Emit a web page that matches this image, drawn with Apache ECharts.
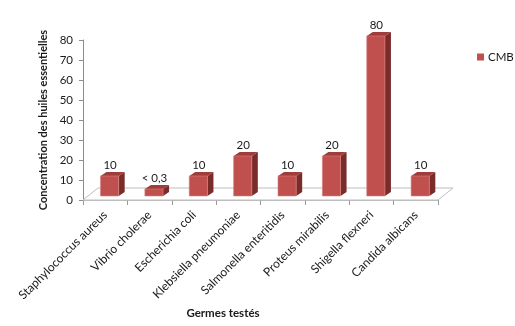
<!DOCTYPE html>
<html>
<head>
<meta charset="utf-8">
<script src="https://cdn.jsdelivr.net/npm/echarts@6/dist/echarts.min.js"></script>
<style>
  html, body { margin: 0; padding: 0; background: #fff; }
  #chart { width: 515px; height: 326px; }
</style>
</head>
<body>
<div id="chart"></div>
<script>
// Germs tested and the essential-oil concentration (CMB) for each
const categories = [
  'Staphylococcus aureus',
  'Vibrio cholerae',
  'Escherichia coli',
  'Klebsiella pneumoniae',
  'Salmonella enteritidis',
  'Proteus mirabilis',
  'Shigella flexneri',
  'Candida albicans'
];
const cmbValues = [10, 3.5, 10, 20, 10, 20, 80, 10];
const cmbLabels = ['10', '< 0,3', '10', '20', '10', '20', '80', '10'];
const yTicks = [0, 10, 20, 30, 40, 50, 60, 70, 80];

const FONT = 'Lato';
const FRONT = '#C0504D';
const TOP = '#9E3D3A';
const SIDE = '#7A2C2A';

// 3D-looking column: front face, top face and right side face
function renderBar(params, api) {
  const i = api.value(0);
  const v = api.value(1);
  const base = api.coord([i, 0]);
  const top = api.coord([i, v]);
  const w = api.size([1, 0])[0] * 0.41;
  const ox = 4.4, oy = -4;   // column stands a little behind the front edge of the floor
  const dx = 6, dy = -4;     // column depth
  const x0 = base[0] + ox - w / 2;
  const x1 = x0 + w;
  const yb = base[1] + oy;
  const yt = top[1] + oy;
  return {
    type: 'group',
    children: [
      { type: 'polygon', shape: { points: [[x1, yb], [x1, yt], [x1 + dx, yt + dy], [x1 + dx, yb + dy]] },
        style: { fill: SIDE } },
      { type: 'polygon', shape: { points: [[x0, yt], [x1, yt], [x1 + dx, yt + dy], [x0 + dx, yt + dy]] },
        style: { fill: TOP } },
      { type: 'rect', shape: { x: x0, y: yt, width: w, height: yb - yt },
        style: { fill: FRONT, stroke: '#D7817F', lineWidth: 0.6 } },
      { type: 'text', style: { x: (x0 + x1) / 2 + 0.5, y: yt - 11, text: cmbLabels[i],
        textAlign: 'center', textVerticalAlign: 'middle', fill: '#1a1a1a',
        font: '11.5px ' + FONT } }
    ]
  };
}

// Floor of the plot, drawn as a slanted parallelogram
function renderFloor(params, api) {
  const cs = params.coordSys;
  const yf = cs.y + cs.height;
  const xl = cs.x, xr = cs.x + cs.width;
  const dx = 15, dy = -12;
  return {
    type: 'polygon',
    shape: { points: [[xl, yf], [xr, yf], [xr + dx, yf + dy], [xl + dx, yf + dy]] },
    style: { fill: '#fff', stroke: '#BDBDBD', lineWidth: 1 }
  };
}

const chart = echarts.init(document.getElementById('chart'), null, { renderer: 'canvas' });
chart.setOption({
  animation: false,
  textStyle: { fontFamily: FONT },
  grid: { left: 83, right: 77, top: 40, bottom: 126 },
  legend: {
    left: 472, top: 46,
    itemWidth: 7, itemHeight: 7, itemGap: 4,
    icon: 'rect',
    data: [{ name: 'CMB', itemStyle: { color: FRONT } }],
    textStyle: { fontFamily: FONT, fontSize: 11.5, color: '#1a1a1a', padding: [0, 0, 0, -1] }
  },
  xAxis: {
    type: 'category',
    data: categories,
    axisLine: { show: true, lineStyle: { color: '#BDBDBD' } },
    axisTick: { show: true, length: 5, lineStyle: { color: '#9a9a9a' } },
    axisLabel: { rotate: 45, margin: 13, interval: 0, fontFamily: FONT, fontSize: 12, color: '#1a1a1a' },
    splitLine: { show: false }
  },
  yAxis: {
    type: 'value',
    min: 0, max: 80, interval: 10,
    name: 'Concentration des huiles essentielles',
    nameLocation: 'middle',
    nameGap: 34,
    nameRotate: 90,
    nameTextStyle: { fontFamily: FONT, fontWeight: 'bold', fontSize: 11, color: '#1a1a1a' },
    axisLine: { show: true, lineStyle: { color: '#8c8c8c' } },
    axisTick: { show: true, length: 4, lineStyle: { color: '#8c8c8c' } },
    axisLabel: { margin: 10, fontFamily: FONT, fontSize: 11.5, color: '#1a1a1a',
      formatter: function (val) { return yTicks.indexOf(val) >= 0 ? String(val) : ''; } },
    splitLine: { show: false }
  },
  graphic: [{
    type: 'text',
    style: { x: 223, y: 313, text: 'Germes testés', textAlign: 'center', textVerticalAlign: 'middle',
      font: 'bold 11.5px ' + FONT, fill: '#1a1a1a' }
  }],
  series: [
    {
      name: 'floor',
      type: 'custom',
      renderItem: renderFloor,
      data: [[0, 0]],
      silent: true,
      z: 1
    },
    {
      name: 'CMB',
      type: 'custom',
      renderItem: renderBar,
      itemStyle: { color: FRONT },
      encode: { x: 0, y: 1 },
      data: cmbValues.map(function (v, i) { return [i, v]; }),
      z: 3
    }
  ]
});
</script>
</body>
</html>
